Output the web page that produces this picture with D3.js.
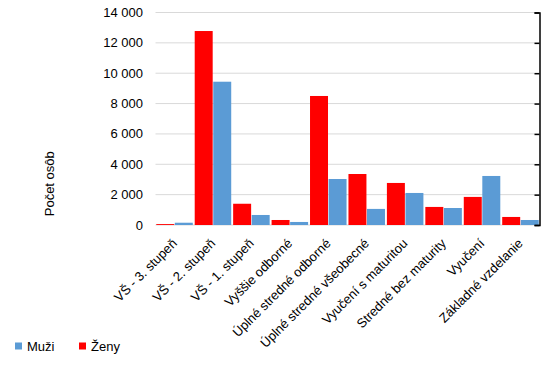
<!DOCTYPE html>
<html>
<head>
<meta charset="utf-8">
<script src="https://cdn.jsdelivr.net/npm/d3@7"></script>
<style>
  html, body { margin: 0; padding: 0; background: #fff; }
  svg { display: block; font-family: "Liberation Sans", Arial, sans-serif; }
</style>
</head>
<body>
<svg id="chart" width="553" height="365"></svg>
<script>
const categories = ["VŠ - 3. stupeň", "VŠ - 2. stupeň", "VŠ - 1. stupeň", "Vyššie odborné",
  "Úplné stredné odborné", "Úplné stredné všeobecné", "Vyučení s maturitou",
  "Stredné bez maturity", "Vyučení", "Základné vzdelanie"];
const zeny = [60, 12780, 1400, 330, 8500, 3360, 2770, 1190, 1850, 530];
const muzi = [150, 9440, 660, 200, 3030, 1060, 2110, 1120, 3230, 330];
const seriesNames = ["Ženy", "Muži"];
const seriesColors = {"Ženy": "#FF0000", "Muži": "#5B9BD5"};
const legendOrder = ["Muži", "Ženy"];
const yTicks = [0, 2000, 4000, 6000, 8000, 10000, 12000, 14000];
const yTitle = "Počet osôb";

(function () {
const svg = d3.select("#chart");
const pLeft = 155.5, pRight = 539.5, pTop = 12.5, pBottom = 225;

const x = d3.scaleBand().domain(categories).range([pLeft, pRight]).paddingInner(0.05).paddingOuter(0.02);
const xs = d3.scaleBand().domain(seriesNames).range([0, x.bandwidth()]).paddingInner(0.03);
const y = d3.scaleLinear().domain([0, 14000]).range([pBottom, pTop]);
const fmt = v => d3.format(",")(v).replace(/,/g, " ");

// gridlines
svg.append("g").selectAll("line").data(yTicks).join("line")
  .attr("x1", pLeft).attr("x2", pRight)
  .attr("y1", d => y(d)).attr("y2", d => y(d))
  .attr("stroke", "#D9D9D9").attr("stroke-width", 1);

// y tick labels
svg.append("g").selectAll("text").data(yTicks).join("text")
  .attr("x", 143).attr("y", d => y(d)).attr("dy", "0.35em")
  .attr("text-anchor", "end").attr("font-size", 13).attr("fill", "#000")
  .text(fmt);

// bars
const data = categories.map((c, i) => ({c, vals: [{s: "Ženy", v: zeny[i]}, {s: "Muži", v: muzi[i]}]}));
const g = svg.append("g").selectAll("g").data(data).join("g")
  .attr("transform", d => `translate(${x(d.c)},0)`);
g.selectAll("rect").data(d => d.vals).join("rect")
  .attr("x", d => xs(d.s)).attr("width", xs.bandwidth())
  .attr("y", d => y(d.v)).attr("height", d => y(0) - y(d.v))
  .attr("fill", d => seriesColors[d.s]);

// right axis
const ra = d3.axisLeft(y).tickValues(yTicks).tickSize(5).tickFormat("");
const rag = svg.append("g").attr("transform", `translate(${pRight},0)`).call(ra);
rag.select(".domain").attr("stroke", "#000").attr("stroke-width", 1.5);
rag.selectAll(".tick line").attr("stroke", "#000").attr("stroke-width", 1.5);

// x labels
svg.append("g").selectAll("text").data(categories).join("text")
  .attr("transform", d => `translate(${x(d) + x.bandwidth() / 2},${pBottom + 16}) rotate(-45)`)
  .attr("text-anchor", "end").attr("dy", "0.35em")
  .attr("font-size", 13).attr("fill", "#000")
  .text(d => d);

// y title
svg.append("text")
  .attr("transform", `translate(54,${(pTop + pBottom) / 2 + 65}) rotate(-90)`)
  .attr("text-anchor", "middle").attr("font-size", 13).attr("fill", "#000")
  .text(yTitle);

// legend
const lg = svg.append("g").selectAll("g").data(legendOrder).join("g")
  .attr("transform", (d, i) => `translate(${15 + i * 64},346)`);
lg.append("rect").attr("x", 0).attr("y", -3.5).attr("width", 7).attr("height", 7)
  .attr("fill", d => seriesColors[d]);
lg.append("text").attr("x", 12).attr("y", 0).attr("dy", "0.35em")
  .attr("font-size", 13).attr("fill", "#000").text(d => d);
})();
</script>
</body>
</html>
